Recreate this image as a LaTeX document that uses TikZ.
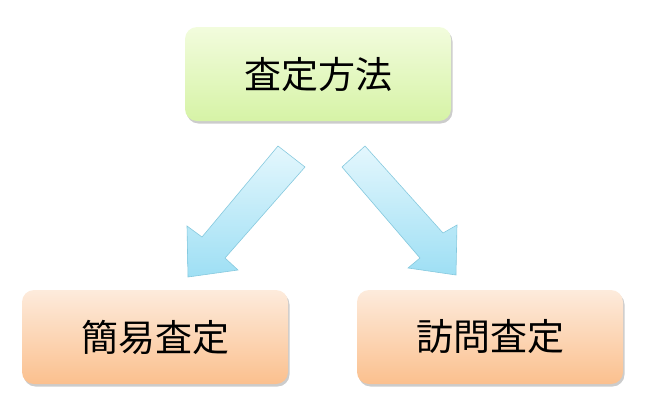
\documentclass[tikz,border=0pt]{standalone}
\usepackage{fontspec}
\newfontfamily\cjk{Noto Sans CJK JP}
\usetikzlibrary{shadows}
\definecolor{gtop}{HTML}{F2FCDD}
\definecolor{gbot}{HTML}{D6F3A6}
\definecolor{otop}{HTML}{FDEBDC}
\definecolor{obot}{HTML}{FBC08E}
\definecolor{btop}{HTML}{E4F7FD}
\definecolor{bbot}{HTML}{9EDFF4}
\definecolor{bedge}{HTML}{86C9DE}
\tikzset{
  box/.style={rounded corners=12pt, minimum width=266pt, minimum height=94pt,
    font=\cjk\fontsize{37}{37}\selectfont, text=black,
    drop shadow={shadow xshift=1.5pt, shadow yshift=-2.5pt, fill=black!40, opacity=0.5}},
  greenbox/.style={box, top color=gtop, bottom color=gbot},
  orangebox/.style={box, top color=otop, bottom color=obot},
  bluearrow/.style={draw=bedge, line width=0.6pt, line join=miter, top color=btop, bottom color=bbot}
}
\begin{document}
\begin{tikzpicture}[x=1pt,y=-1pt]
\useasboundingbox (0,0) rectangle (651,416);
\node[greenbox] (top) at (318,74) {査定方法};
\node[orangebox] (left) at (155,337) {簡易査定};
\node[orangebox] (right) at (490,337) {訪問査定};
% left arrow
\path[bluearrow] (278,146) -- (305,167) -- (225,258) -- (238,270) -- (188,277) -- (187,226) -- (202,237) -- cycle;
% right arrow
\path[bluearrow] (365,146) -- (443,233) -- (457,225) -- (456,275) -- (408,268) -- (420,258) -- (342,167) -- cycle;
\end{tikzpicture}
\end{document}
